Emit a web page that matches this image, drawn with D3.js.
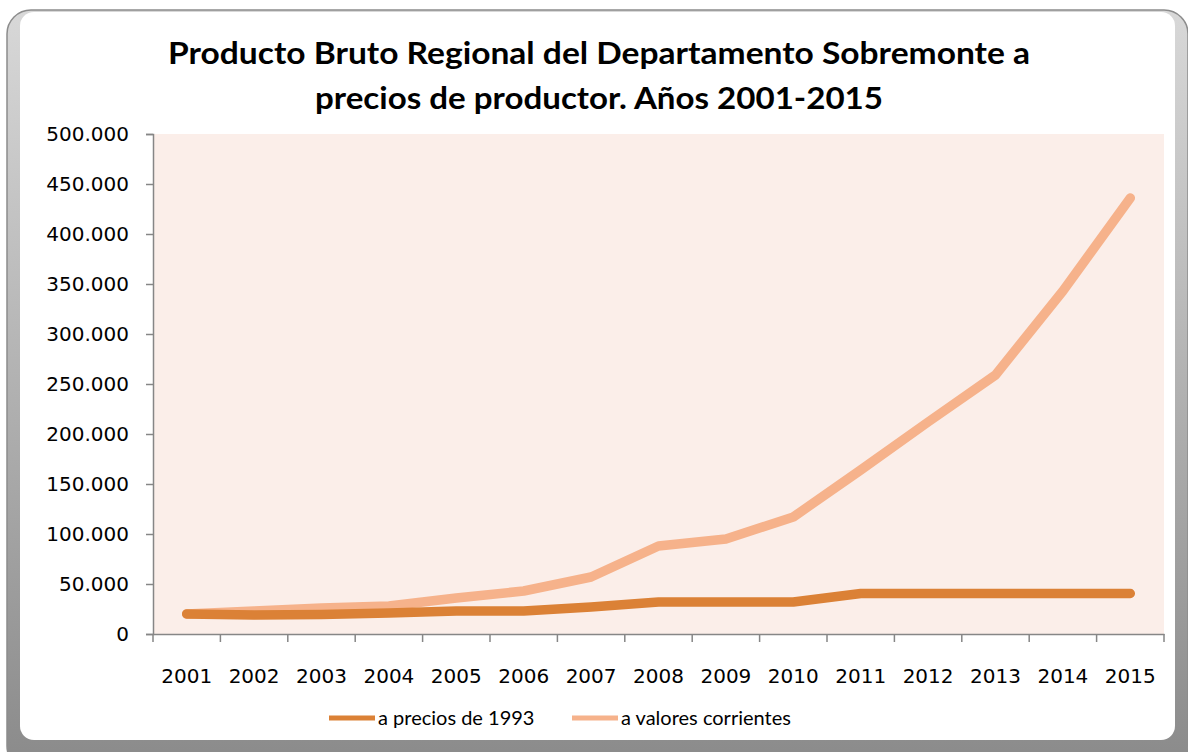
<!DOCTYPE html>
<html><head><meta charset="utf-8">
<script src="https://cdnjs.cloudflare.com/ajax/libs/d3/7.8.5/d3.min.js"></script>
<style>body{margin:0;background:#fff;}svg{display:block;}</style>
</head><body>
<script>
const years = ["2001","2002","2003","2004","2005","2006","2007","2008","2009","2010","2011","2012","2013","2014","2015"];
const precios1993 = [20000,19000,19500,21000,23000,23000,27000,32000,32000,32000,40500,40500,40500,40500,40500];
const corrientes = [20000,23000,26000,28000,36000,43000,57000,88000,95000,117000,164000,212000,259000,343000,436000];
const yTicks = [0,50000,100000,150000,200000,250000,300000,350000,400000,450000,500000];
const seriesNames = ["a precios de 1993","a valores corrientes"];
const seriesColors = ["#DB8136","#F6B28B"];
const title = ["Producto Bruto Regional del Departamento Sobremonte a","precios de productor. Años 2001-2015"];

const W=1188,H=752;
const svg=d3.select("body").append("svg").attr("width",W).attr("height",H);
const defs=svg.append("defs");
const g1=defs.append("linearGradient").attr("id","frameG").attr("x1",0).attr("y1",0).attr("x2",0).attr("y2",1);
g1.append("stop").attr("offset","0").attr("stop-color","#d8d8d8");
g1.append("stop").attr("offset","1").attr("stop-color","#8a8a8a");

// frame
svg.append("rect").attr("x",7).attr("y",10).attr("width",1181).attr("height",760).attr("rx",24)
  .attr("fill","url(#frameG)").attr("stroke","#8c8c8c").attr("stroke-width",1.5);
svg.append("rect").attr("x",20).attr("y",12).attr("width",1155).attr("height",728).attr("rx",14)
  .attr("fill","#fff");

const m={l:153,r:1164,t:134,b:634};
const x=d3.scaleBand().domain(years).range([m.l,m.r]).paddingInner(0).paddingOuter(0);
const y=d3.scaleLinear().domain([0,500000]).range([m.b,m.t]);

svg.append("rect").attr("x",m.l).attr("y",m.t).attr("width",m.r-m.l).attr("height",m.b-m.t).attr("fill","#FBEEE9");

// title
const titleW=[862,568];
svg.append("g").selectAll("text").data(title).join("text")
  .attr("x",599).attr("y",(d,i)=>64+i*45).attr("text-anchor","middle")
  .attr("font-family","Lato, 'Open Sans', sans-serif").attr("font-weight","bold").attr("font-size",31)
  .attr("textLength",(d,i)=>titleW[i]).attr("lengthAdjust","spacingAndGlyphs")
  .attr("fill","#000").text(d=>d);

const fmt=v=>v===0?"0":d3.format(",")(v).replace(/,/g,".");
const ya=svg.append("g").attr("transform",`translate(${m.l},0)`)
  .call(d3.axisLeft(y).tickValues(yTicks).tickFormat(fmt).tickSize(7).tickPadding(17));
ya.select(".domain").attr("stroke","#868686").attr("stroke-width",1.5);
ya.selectAll(".tick line").attr("stroke","#868686").attr("stroke-width",1.5);
ya.selectAll("text").attr("font-family","'DejaVu Sans', sans-serif").attr("font-size",20).attr("fill","#000");

// x axis with ticks at band boundaries
const xa=svg.append("g").attr("transform",`translate(0,${m.b})`)
  .call(d3.axisBottom(x).tickSize(0).tickPadding(35));
xa.select(".domain").attr("stroke","#868686").attr("stroke-width",1.5);
xa.selectAll("text").attr("font-family","'DejaVu Sans', sans-serif").attr("font-size",20).attr("fill","#000");
const bounds=years.map(d=>x(d)).concat([m.r]);
xa.selectAll(".btick").data(bounds).join("line").attr("class","btick")
  .attr("x1",d=>d).attr("x2",d=>d).attr("y1",0).attr("y2",8).attr("stroke","#868686").attr("stroke-width",1.5);

const line=d3.line().x((d,i)=>x(years[i])+x.bandwidth()/2).y(d=>y(d));
[corrientes,precios1993].forEach((s,k)=>{
  const c = k===0?seriesColors[1]:seriesColors[0];
  svg.append("path").datum(s).attr("d",line).attr("fill","none").attr("stroke",c)
    .attr("stroke-width",9.5).attr("stroke-linejoin","round").attr("stroke-linecap","round");
});

// legend
const lg=svg.append("g");
const lx=[329,572];
seriesNames.forEach((n,i)=>{
  lg.append("line").attr("x1",lx[i]).attr("x2",lx[i]+46).attr("y1",718).attr("y2",718)
    .attr("stroke",seriesColors[i]).attr("stroke-width",5);
  lg.append("text").attr("x",lx[i]+49).attr("y",725).attr("font-family","Lato, 'Open Sans', sans-serif")
    .attr("font-size",20).attr("fill","#000").text(n);
});
</script>
</body></html>
